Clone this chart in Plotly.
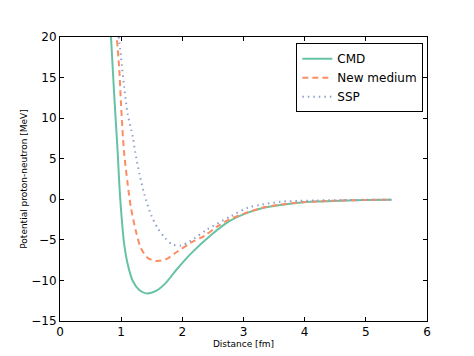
import plotly.graph_objects as go

# CMD (solid green)
cmd_x = [0.834, 0.888, 0.943, 0.97, 1.008, 1.05, 1.107, 1.19, 1.30, 1.42, 1.57, 1.73, 1.88, 2.14, 2.47, 2.77, 3.07, 3.30, 3.60, 3.90, 4.20, 4.60, 5.00, 5.42]
cmd_y = [20.0, 12.6, 5.8, 1.85, -2.27, -5.55, -8.0, -10.07, -11.2, -11.6, -11.3, -10.3, -8.9, -6.7, -4.4, -2.7, -1.65, -1.1, -0.7, -0.42, -0.28, -0.17, -0.1, -0.06]

# New medium (dashed orange)
new_x = [0.932, 0.97, 0.997, 1.045, 1.107, 1.16, 1.24, 1.32, 1.43, 1.57, 1.73, 1.91, 2.14, 2.36, 2.58, 2.77, 3.07, 3.30, 3.60, 3.90, 4.20, 4.60, 5.00, 5.42]
new_y = [19.6, 15.9, 11.8, 6.0, 1.85, -1.04, -3.9, -5.97, -7.2, -7.6, -7.4, -6.5, -5.35, -4.5, -3.3, -2.47, -1.6, -1.05, -0.65, -0.4, -0.26, -0.15, -0.09, -0.05]

# SSP (dotted blue)
ssp_x = [0.96, 0.997, 1.05, 1.107, 1.19, 1.23, 1.30, 1.38, 1.49, 1.60, 1.71, 1.83, 1.98, 2.14, 2.41, 2.80, 3.07, 3.30, 3.61, 3.90, 4.20, 4.60, 5.00, 5.42]
ssp_y = [20.0, 17.5, 13.8, 10.5, 7.7, 5.8, 3.1, 0.6, -1.95, -3.6, -4.7, -5.55, -5.7, -5.1, -3.7, -2.06, -1.04, -0.65, -0.3, -0.2, -0.14, -0.1, -0.07, -0.05]

x_ticks = [0, 1, 2, 3, 4, 5, 6]
y_ticks = [-15, -10, -5, 0, 5, 10, 15, 20]

fig = go.Figure()
fig.add_trace(go.Scatter(x=cmd_x, y=cmd_y, mode="lines", name="CMD",
                         line=dict(color="#66c2a5", width=2, shape="spline", smoothing=0.8)))
fig.add_trace(go.Scatter(x=new_x, y=new_y, mode="lines", name="New medium",
                         line=dict(color="#fc8d62", width=2, dash="6px,4px", shape="spline", smoothing=0.8)))
fig.add_trace(go.Scatter(x=ssp_x, y=ssp_y, mode="lines", name="SSP",
                         line=dict(color="#8da0cb", width=2, dash="1.5px,4px", shape="spline", smoothing=0.8)))

axis_common = dict(showline=True, linecolor="black", linewidth=1, mirror="ticks",
                   ticks="inside", ticklen=4, tickcolor="black", showgrid=False,
                   zeroline=False, automargin=False,
                   tickfont=dict(family="DejaVu Sans", size=12, color="black"))

fig.update_xaxes(range=[0, 6], tickvals=x_ticks,
                 title=dict(text="Distance [fm]", font=dict(family="DejaVu Sans", size=9, color="black"), standoff=0),
                 **axis_common)
fig.update_yaxes(range=[-15, 20], tickvals=y_ticks,
                 title=dict(text="Potential proton-neutron [MeV]", font=dict(family="DejaVu Sans", size=9, color="black"), standoff=2),
                 **axis_common)

fig.update_layout(
    width=474, height=356,
    margin=dict(l=52, r=55, t=29, b=43),
    plot_bgcolor="white", paper_bgcolor="white",
    legend=dict(x=0.99, y=0.978, xanchor="right", yanchor="top",
                bordercolor="black", borderwidth=1, bgcolor="white",
                font=dict(family="DejaVu Sans", size=12, color="black"),
                tracegroupgap=0, itemwidth=30),
)

fig.write_html("out.html")
